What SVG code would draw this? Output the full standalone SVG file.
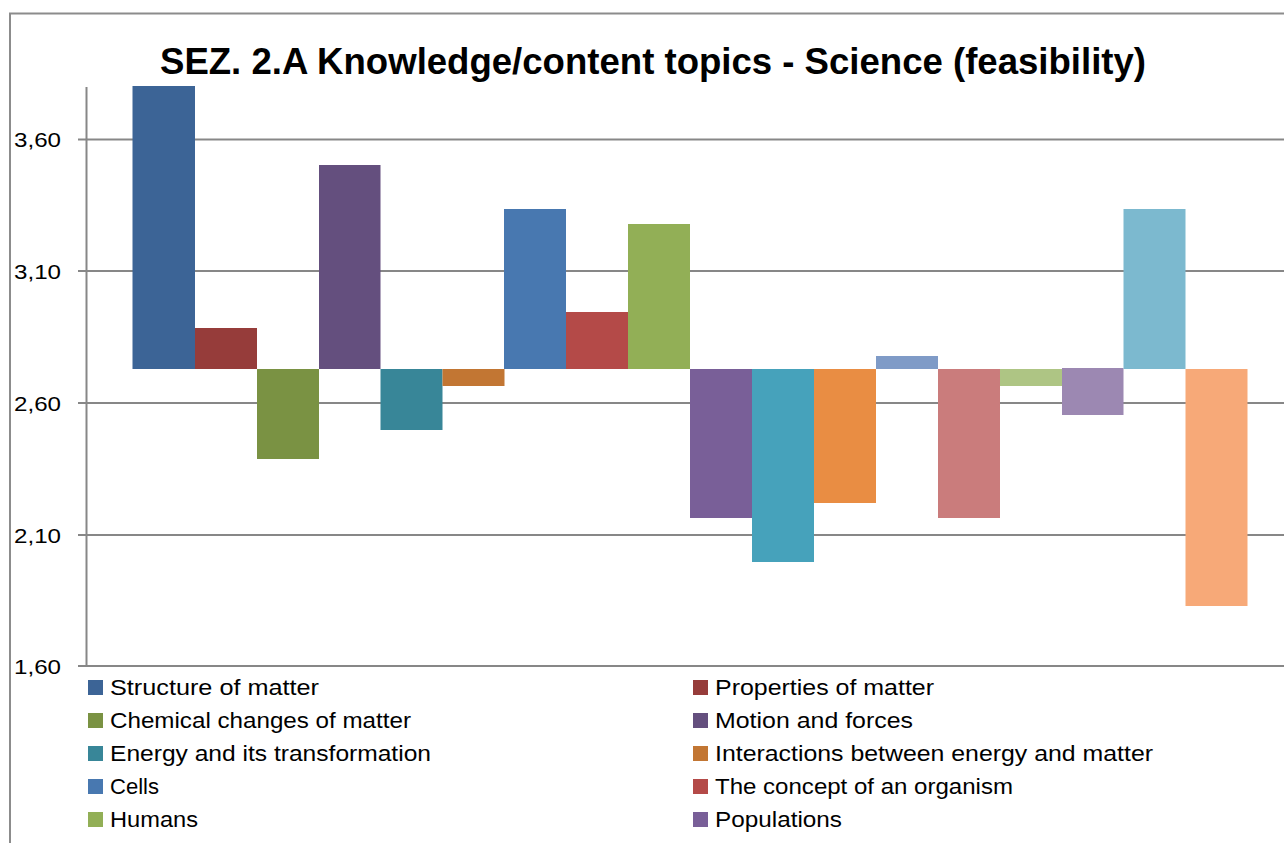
<svg xmlns="http://www.w3.org/2000/svg" width="1284" height="843" viewBox="0 0 1284 843">
<style>
.grid{stroke:#878787;stroke-width:2;fill:none}
.frame{stroke:#8c8c8c;stroke-width:2;fill:none}
.ax{font-family:"Liberation Sans",Arial,sans-serif;font-size:21px;fill:#000}
.lg{font-family:"Liberation Sans",Arial,sans-serif;font-size:22px;fill:#000}
.title{font-family:"Liberation Sans",Arial,sans-serif;font-size:36px;font-weight:bold;fill:#000}
</style>
<rect width="1284" height="843" fill="#fff"/>
<path class="frame" d="M10,843 V13.5 H1284"/>
<g id="grid">
<path class="grid" d="M78,139.5 H1284 M78,271 H1284 M78,403 H1284 M78,535 H1284 M78,666 H1284 M86.5,87 V666"/>
</g>
<text id="title" class="title" x="160" y="74" textLength="986" lengthAdjust="spacingAndGlyphs">SEZ. 2.A Knowledge/content topics - Science (feasibility)</text>
<g id="axis-labels">
<text class="ax" x="14" y="147" textLength="47" lengthAdjust="spacingAndGlyphs">3,60</text>
<text class="ax" x="14" y="279" textLength="47" lengthAdjust="spacingAndGlyphs">3,10</text>
<text class="ax" x="14" y="411" textLength="47" lengthAdjust="spacingAndGlyphs">2,60</text>
<text class="ax" x="14" y="543" textLength="47" lengthAdjust="spacingAndGlyphs">2,10</text>
<text class="ax" x="14" y="674" textLength="47" lengthAdjust="spacingAndGlyphs">1,60</text>
</g>
<g id="bars">
<rect id="b1" x="132.5" y="86" width="62.5" height="283" fill="#3c6496"/>
<rect id="b2" x="195" y="328" width="62" height="41" fill="#963c3a"/>
<rect id="b3" x="257" y="369" width="62" height="90" fill="#7a9243"/>
<rect id="b4" x="319" y="165" width="61.5" height="204" fill="#644f7e"/>
<rect id="b5" x="380.5" y="369" width="62" height="61" fill="#388698"/>
<rect id="b6" x="442.5" y="369" width="62" height="17" fill="#c27633"/>
<rect id="b7" x="504" y="209" width="62" height="160" fill="#4878b0"/>
<rect id="b8" x="566" y="312" width="62" height="57" fill="#b44a48"/>
<rect id="b9" x="628" y="224" width="62" height="145" fill="#92af56"/>
<rect id="b10" x="690" y="369" width="62" height="149" fill="#795f98"/>
<rect id="b11" x="752" y="369" width="62" height="193" fill="#46a2bb"/>
<rect id="b12" x="814" y="369" width="62" height="134" fill="#e98d43"/>
<rect id="b13" x="876" y="356" width="62" height="13" fill="#7f9bc7"/>
<rect id="b14" x="938" y="369" width="62" height="149" fill="#ca7c7c"/>
<rect id="b15" x="1000" y="369" width="62" height="17" fill="#aec584"/>
<rect id="b16" x="1062" y="368" width="61.5" height="47" fill="#9c88b2"/>
<rect id="b17" x="1123.5" y="209" width="62" height="160" fill="#7cb9cf"/>
<rect id="b18" x="1185.5" y="369" width="62" height="237" fill="#f7a978"/>
</g>
<g id="legend">
<rect x="88" y="680" width="15" height="15" fill="#3c6496"/>
<text class="lg" x="110" y="695" textLength="209" lengthAdjust="spacingAndGlyphs">Structure of matter</text>
<rect x="693" y="680" width="15" height="15" fill="#963c3a"/>
<text class="lg" x="715" y="695" textLength="219" lengthAdjust="spacingAndGlyphs">Properties of matter</text>
<rect x="88" y="713" width="15" height="15" fill="#7a9243"/>
<text class="lg" x="110" y="728" textLength="301" lengthAdjust="spacingAndGlyphs">Chemical changes of matter</text>
<rect x="693" y="713" width="15" height="15" fill="#644f7e"/>
<text class="lg" x="715" y="728" textLength="198" lengthAdjust="spacingAndGlyphs">Motion and forces</text>
<rect x="88" y="746" width="15" height="15" fill="#388698"/>
<text class="lg" x="110" y="761" textLength="321" lengthAdjust="spacingAndGlyphs">Energy and its transformation</text>
<rect x="693" y="746" width="15" height="15" fill="#c27633"/>
<text class="lg" x="715" y="761" textLength="438" lengthAdjust="spacingAndGlyphs">Interactions between energy and matter</text>
<rect x="88" y="779" width="15" height="15" fill="#4878b0"/>
<text class="lg" x="110" y="794" textLength="49" lengthAdjust="spacingAndGlyphs">Cells</text>
<rect x="693" y="779" width="15" height="15" fill="#b44a48"/>
<text class="lg" x="715" y="794" textLength="298" lengthAdjust="spacingAndGlyphs">The concept of an organism</text>
<rect x="88" y="812" width="15" height="15" fill="#92af56"/>
<text class="lg" x="110" y="827" textLength="88" lengthAdjust="spacingAndGlyphs">Humans</text>
<rect x="693" y="812" width="15" height="15" fill="#795f98"/>
<text class="lg" x="715" y="827" textLength="127" lengthAdjust="spacingAndGlyphs">Populations</text>
</g>
</svg>
